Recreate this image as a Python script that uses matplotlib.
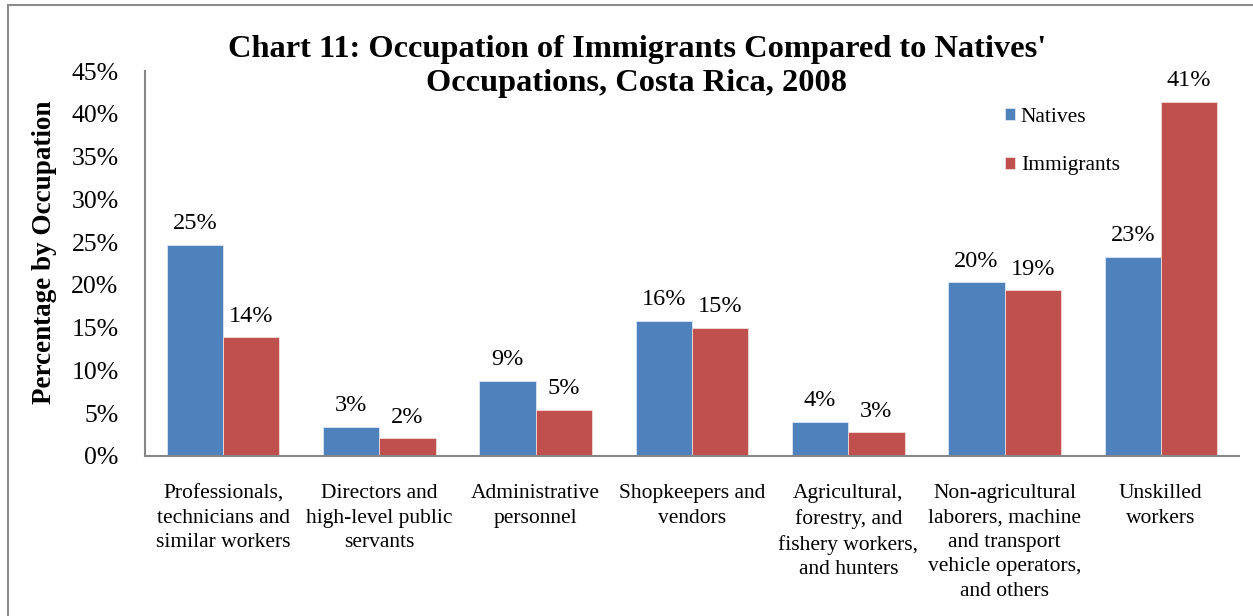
import matplotlib
matplotlib.use("Agg")
import matplotlib.pyplot as plt
import numpy as np
from matplotlib.patches import Rectangle

categories = [
    "Professionals,\ntechnicians and\nsimilar workers",
    "Directors and\nhigh-level public\nservants",
    "Administrative\npersonnel",
    "Shopkeepers and\nvendors",
    "Agricultural,\nforestry, and\nfishery workers,\nand hunters",
    "Non-agricultural\nlaborers, machine\nand transport\nvehicle operators,\nand others",
    "Unskilled\nworkers",
]
natives = [24.7, 3.4, 8.8, 15.8, 4.0, 20.3, 23.3]
immigrants = [13.9, 2.1, 5.4, 15.0, 2.8, 19.4, 41.4]
yticks = [0, 5, 10, 15, 20, 25, 30, 35, 40, 45]

plt.rcParams['font.family'] = ['Liberation Serif', 'DejaVu Serif']

W, H = 1253, 616
fig = plt.figure(figsize=(W / 100, H / 100), dpi=100)
ax = fig.add_axes([145 / W, (H - 456) / H, 1094 / W, 385 / H])

# outer frame
fig.patches.append(Rectangle((8 / W, -0.1), 1.2, (H - 5) / H + 0.1,
                             transform=fig.transFigure, fill=False,
                             edgecolor='#8c8c8c', linewidth=1.5))

x = np.arange(len(categories))
bw = 0.36
blue = '#4F81BD'
red = '#C0504D'
b1 = ax.bar(x - bw / 2, natives, bw, color=blue, edgecolor='#dce6f2', linewidth=0.6, label='Natives')
b2 = ax.bar(x + bw / 2, immigrants, bw, color=red, edgecolor='#f2dcdb', linewidth=0.6, label='Immigrants')

for bars, vals in ((b1, natives), (b2, immigrants)):
    for r, v in zip(bars, vals):
        ax.annotate(f"{int(round(v))}%", (r.get_x() + r.get_width() / 2, v),
                    xytext=(0, 7.5), textcoords='offset points',
                    ha='center', va='bottom', fontsize=17.5)

ax.set_xlim(-0.5, len(categories) - 0.5)
ax.set_ylim(0, 45)
ax.set_yticks(yticks)
ax.set_yticklabels([f"{t}%" for t in yticks], fontsize=18.5)
ax.set_xticks(x)
ax.set_xticklabels(categories, fontsize=15.5, linespacing=1.38)
ax.tick_params(axis='y', length=0, pad=19)
ax.tick_params(axis='x', length=0, pad=20.5)

for s in ['top', 'right']:
    ax.spines[s].set_visible(False)
for s in ['left', 'bottom']:
    ax.spines[s].set_color('#868686')
    ax.spines[s].set_linewidth(1.5)

ax.set_ylabel("Percentage by Occupation", fontsize=19.5, fontweight='bold')
ax.yaxis.set_label_coords(-0.08, 0.529)

fig.text(637 / W, 1 - 66.5 / H, "Chart 11: Occupation of Immigrants Compared to Natives'\nOccupations, Costa Rica, 2008",
         ha='center', va='center', fontsize=23.3, fontweight='bold', linespacing=1.22)

leg = ax.legend(loc='upper left', bbox_to_anchor=(0.768, 0.955), frameon=False,
                fontsize=15.5, handlelength=0.5, handleheight=0.5,
                labelspacing=1.38, handletextpad=0.25)

fig.savefig("out.png", dpi=100, facecolor='white')
